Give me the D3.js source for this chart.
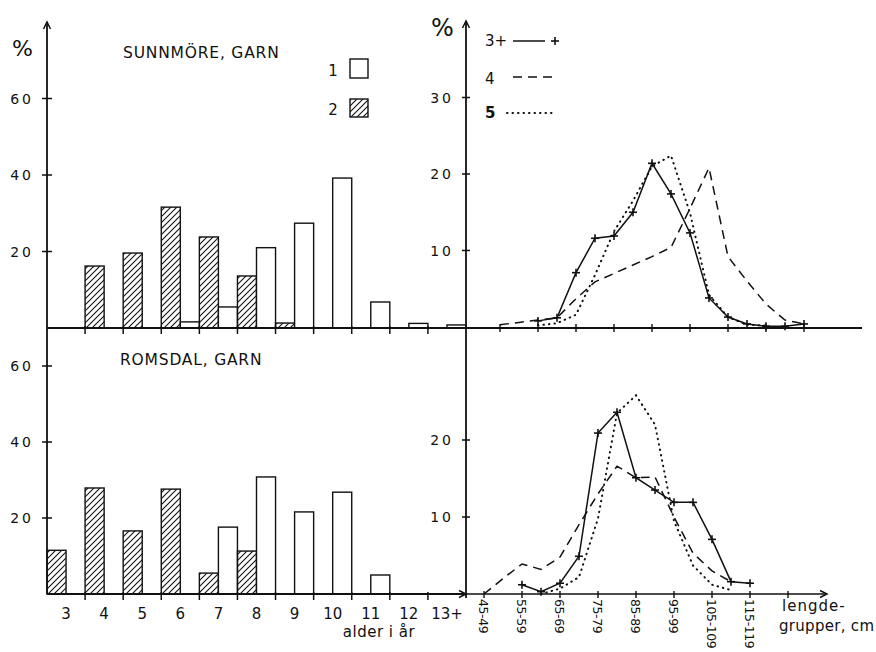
<!DOCTYPE html>
<html><head><meta charset="utf-8">
<script src="https://cdn.jsdelivr.net/npm/d3@7"></script>
<style>
body{margin:0;background:#fff}
text{font-family:"DejaVu Sans",sans-serif;fill:#111}
</style>
</head><body>
<svg id="c" width="876" height="652"></svg>
<script>
// ---------- data ----------
const ages = ["3","4","5","6","7","8","9","10","11","12","13+"];
const sunnOpen  = [0,0,0,1.6,5.5,21,27.4,39.2,6.8,1.2,0.8];
const sunnHatch = [0,16.2,19.6,31.6,23.8,13.6,1.3,0,0,0,0];
const romsOpen  = [0,0,0,0,17.6,30.8,21.6,26.8,5.0,0,0];
const romsHatch = [11.5,27.9,16.6,27.6,5.5,11.3,0,0,0,0,0];
const leftTicks = [20,40,60];

const lengthGroups = ["45-49","50-54","55-59","60-64","65-69","70-74","75-79","80-84","85-89","90-94",
  "95-99","100-104","105-109","110-114","115-119","120-124","125-129","130-134"];
const lengthLabels = ["45-49","55-59","65-69","75-79","85-89","95-99","105-109","115-119"];
const sunnAge3 = [null,null,null,0.8,1.2,7.1,11.6,11.9,15.0,21.4,17.4,12.3,3.8,1.3,0.4,0.1,0.1,0.4];
const sunnAge4 = [null,0.3,0.6,0.9,1.2,3.7,5.9,7.0,8.1,9.2,10.4,15.5,20.8,9.2,6.0,3.0,0.9,0.4];
const sunnAge5 = [null,null,null,0.2,0.5,1.6,6.8,12.5,16.5,21.0,22.4,14.9,4.2,1.3,0.3,0.2,null,null];
const romsAge3 = [null,null,1.2,0.3,1.4,4.9,20.9,23.6,15.1,13.5,11.9,11.9,7.1,1.6,1.4,null,null,null];
const romsAge4 = [0,2.0,3.9,3.2,4.8,9.0,13.0,16.6,15.1,15.2,10.0,5.3,3.0,1.6,null,null,null,null];
const romsAge5 = [null,null,null,0,0.7,2.2,9.8,23.5,25.8,22.0,9.5,3.7,1.2,0.5,null,null,null,null];
const rightTicksTop = [10,20,30];
const rightTicksBottom = [10,20];

// ---------- setup ----------
const svg = d3.select("#c");
const ink = "#111";
const defs = svg.append("defs");
const pat = defs.append("pattern").attr("id","hatch").attr("patternUnits","userSpaceOnUse")
  .attr("width",6).attr("height",6);
pat.append("path").attr("d","M0,6 L6,0 M-1,1 L1,-1 M5,7 L7,5").attr("stroke",ink).attr("stroke-width",1.1);

const xL = d3.scaleBand().domain(ages).range([47,466]).padding(0);
const bw = xL.bandwidth();
const yLT = d3.scaleLinear().domain([0,80]).range([328,22]);
const yLB = d3.scaleLinear().domain([0,70]).range([594,328]);

const xRB = d3.scalePoint().domain(lengthGroups).range([484,807]);
const xRT = d3.scalePoint().domain(lengthGroups).range([481,804]);
const yRT = d3.scaleLinear().domain([0,40]).range([327,21]);
const yRB = d3.scaleLinear().domain([0,20]).range([594,440]);

function line(x1,y1,x2,y2,w){svg.append("line").attr("x1",x1).attr("y1",y1).attr("x2",x2).attr("y2",y2)
  .attr("stroke",ink).attr("stroke-width",w||1.6);}
function arrow(x,y,dir){ // open arrowhead
  const s=7,h=3.5;
  let d = dir==="up" ? `M${x-h},${y+s} L${x},${y} L${x+h},${y+s}` : `M${x-s},${y-h} L${x},${y} L${x-s},${y+h}`;
  svg.append("path").attr("d",d).attr("fill","none").attr("stroke",ink).attr("stroke-width",1.5);
}

// ---------- bars ----------
function bars(openV, hatchV, y){
  ages.forEach((a,i)=>{
    if(hatchV[i]>0) svg.append("rect").attr("x",xL(a)).attr("y",y(hatchV[i])).attr("width",bw/2)
      .attr("height",y(0)-y(hatchV[i])).attr("fill","url(#hatch)").attr("stroke",ink).attr("stroke-width",1.4);
    if(openV[i]>0) svg.append("rect").attr("x",xL(a)+bw/2).attr("y",y(openV[i])).attr("width",bw/2)
      .attr("height",y(0)-y(openV[i])).attr("fill","#fff").attr("stroke",ink).attr("stroke-width",1.4);
  });
}
bars(sunnOpen,sunnHatch,yLT);
bars(romsOpen,romsHatch,yLB);

// ---------- axes ----------
line(xL(ages[0]),yLT.range()[1],xL(ages[0]),yLB(0),1.8);
arrow(xL(ages[0]),yLT.range()[1],"up");
const xr0 = xRB.range()[0]-18;
line(xr0,yRT.range()[1],xr0,yRB(0)+4,1.8);
arrow(xr0,yRT.range()[1],"up");
line(xL(ages[0]),yLT(0),862,yLT(0),1.8);
line(xL(ages[0]),yLB(0),xL.range()[1],yLB(0),1.8);
arrow(xL.range()[1],yLB(0),"right");
line(xL.range()[1],yRB(0),827,yRB(0),1.6);
arrow(827,yRB(0),"right");

ages.slice(1).forEach(a=>{
  line(xL(a),yLT(0)-2,xL(a),yLT(0)+6,1.5);
  line(xL(a),yLB(0)-2,xL(a),yLB(0)+6,1.5);
});
ages.forEach(a=>{
  svg.append("text").attr("x",xL(a)+bw/2).attr("y",yLB(0)+25).attr("text-anchor","middle")
    .attr("font-size",15).text(a);
});
svg.append("text").attr("x",379).attr("y",637).attr("text-anchor","middle").attr("font-size",15)
  .attr("letter-spacing",0.5).text("alder i år");

[yLT,yLB].forEach(y=>{
  leftTicks.forEach(t=>{
    line(xL(ages[0])-5,y(t),xL(ages[0])+5,y(t),1.5);
    svg.append("text").attr("x",xL(ages[0])-13).attr("y",y(t)+5).attr("text-anchor","end")
      .attr("font-size",14).attr("letter-spacing",3).text(t);
  });
});
rightTicksTop.forEach(t=>{
  line(xr0-4,yRT(t),xr0+4,yRT(t),1.5);
  svg.append("text").attr("x",xr0-12).attr("y",yRT(t)+5).attr("text-anchor","end")
    .attr("font-size",14).attr("letter-spacing",3).text(t);
});
rightTicksBottom.forEach(t=>{
  line(xr0-4,yRB(t),xr0+4,yRB(t),1.5);
  svg.append("text").attr("x",xr0-12).attr("y",yRB(t)+5).attr("text-anchor","end")
    .attr("font-size",14).attr("letter-spacing",3).text(t);
});
lengthGroups.forEach((g,i)=>{
  if(i%2===0) line(xRB(g),yRB(0)-3,xRB(g),yRB(0)+4,1.4);
  else line(xRT(g),yRT(0)-3,xRT(g),yRT(0)+5,1.4);
});
lengthLabels.forEach(g=>{
  svg.append("text").attr("transform",`translate(${xRB(g)-5},${yRB(0)+5}) rotate(90)`)
    .attr("font-size",12.5).attr("letter-spacing",-0.4).text(g);
});
svg.append("text").attr("x",782).attr("y",611).attr("font-size",15).attr("letter-spacing",1).text("lengde-");
svg.append("text").attr("x",779).attr("y",631).attr("font-size",15).attr("letter-spacing",0.3).text("grupper, cm");

// ---------- lines ----------
function plusMark(x,y){
  line(x-4,y,x+4,y,1.6); line(x,y-4,x,y+4,1.6);
}
function series(vals, x, y, style){
  const pts = lengthGroups.map((g,i)=>[g,vals[i]]).filter(d=>d[1]!==null);
  const gen = d3.line().x(d=>x(d[0])).y(d=>y(d[1]));
  const p = svg.append("path").attr("d",gen(pts)).attr("fill","none").attr("stroke",ink);
  if(style==="solid"){p.attr("stroke-width",1.5); pts.forEach(d=>plusMark(x(d[0]),y(d[1])));}
  if(style==="dash"){p.attr("stroke-width",1.5).attr("stroke-dasharray","9,6");}
  if(style==="dot"){p.attr("stroke-width",2).attr("stroke-dasharray","0.5,5").attr("stroke-linecap","round");}
}
series(sunnAge4,xRT,yRT,"dash");
series(sunnAge5,xRT,yRT,"dot");
series(sunnAge3,xRT,yRT,"solid");
series(romsAge4,xRB,yRB,"dash");
series(romsAge5,xRB,yRB,"dot");
series(romsAge3,xRB,yRB,"solid");

// ---------- titles & legends ----------
svg.append("text").attr("x",12).attr("y",56).attr("font-size",22).text("%");
svg.append("text").attr("x",431).attr("y",36).attr("font-size",24).text("%");
svg.append("text").attr("x",123).attr("y",58).attr("font-size",15.5).attr("letter-spacing",0.8).text("SUNNMÖRE, GARN");
svg.append("text").attr("x",120).attr("y",365).attr("font-size",15.5).attr("letter-spacing",0.8).text("ROMSDAL,  GARN");

svg.append("text").attr("x",333).attr("y",76).attr("font-size",15).attr("text-anchor","middle").text("1");
svg.append("rect").attr("x",350).attr("y",59).attr("width",18).attr("height",19).attr("fill","#fff").attr("stroke",ink).attr("stroke-width",1.4);
svg.append("text").attr("x",333).attr("y",115).attr("font-size",15).attr("text-anchor","middle").text("2");
svg.append("rect").attr("x",350).attr("y",99).attr("width",18).attr("height",18).attr("fill","url(#hatch)").attr("stroke",ink).attr("stroke-width",1.4);

svg.append("text").attr("x",485).attr("y",46).attr("font-size",15).text("3+");
line(513,41,545,41,1.5); plusMark(555,41);
svg.append("text").attr("x",485).attr("y",84).attr("font-size",15).text("4");
svg.append("path").attr("d","M513,77 L555,77").attr("stroke",ink).attr("stroke-width",1.5).attr("stroke-dasharray","9,6");
svg.append("text").attr("x",485).attr("y",118).attr("font-size",15).attr("font-weight","bold").text("5");
svg.append("path").attr("d","M507,113 L552,113").attr("stroke",ink).attr("stroke-width",2).attr("stroke-dasharray","0.5,5").attr("stroke-linecap","round");
</script>
</body></html>
